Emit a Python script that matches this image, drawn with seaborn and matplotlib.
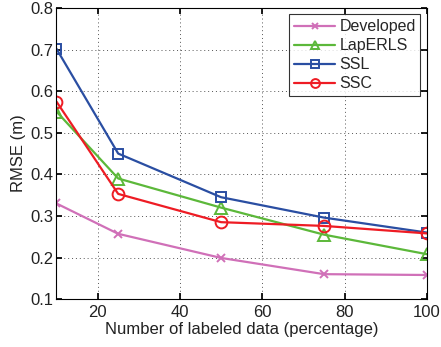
import matplotlib
matplotlib.use("Agg")
import matplotlib.pyplot as plt
import pandas as pd
import seaborn as sns

# data
labeled_pct = [10, 25, 50, 75, 100]
developed = [0.330, 0.257, 0.199, 0.160, 0.158]
laperls = [0.551, 0.390, 0.320, 0.255, 0.208]
ssl = [0.702, 0.450, 0.345, 0.296, 0.260]
ssc = [0.575, 0.353, 0.285, 0.276, 0.258]

series = {
    "Developed": developed,
    "LapERLS": laperls,
    "SSL": ssl,
    "SSC": ssc,
}
colors = {"Developed": "#d070b8", "LapERLS": "#5cb83a", "SSL": "#2a4ea2", "SSC": "#ee1c24"}
markers = {"Developed": "x", "LapERLS": "^", "SSL": "s", "SSC": "o"}
msizes = {"Developed": 5.5, "LapERLS": 8, "SSL": 7, "SSC": 8.5}

sns.set_theme(style="white")
plt.rcParams["font.family"] = ["Liberation Sans", "DejaVu Sans"]

fig = plt.figure(figsize=(4.41, 3.47), dpi=100)
ax = fig.add_axes([0.128, 0.138, 0.84, 0.839])

for name, vals in series.items():
    df = pd.DataFrame({"x": labeled_pct, "y": vals})
    sns.lineplot(
        data=df, x="x", y="y", ax=ax, color=colors[name], marker=markers[name],
        markersize=msizes[name], markerfacecolor="none", markeredgecolor=colors[name],
        markeredgewidth=1.4, linewidth=1.6, label=name,
    )

ax.set_xlim(10, 100)
ax.set_ylim(0.1, 0.8)
ax.set_xticks([20, 40, 60, 80, 100])
ax.set_yticks([0.1, 0.2, 0.3, 0.4, 0.5, 0.6, 0.7, 0.8])
ax.set_yticklabels(["0.1", "0.2", "0.3", "0.4", "0.5", "0.6", "0.7", "0.8"])
ax.grid(True, linestyle=(0, (1, 3)), color="#555555", linewidth=0.7)
ax.tick_params(direction="in", length=4, labelsize=12, colors="black",
               labelcolor="#222222", top=True, right=True, bottom=True, left=True, pad=2)
ax.tick_params(axis="x", pad=4)
for s in ax.spines.values():
    s.set_color("black")
    s.set_linewidth(0.8)

ax.set_xlabel("Number of labeled data (percentage)", fontsize=12, labelpad=2, color="#222222")
ax.set_ylabel("RMSE (m)", fontsize=12, labelpad=3, color="#222222")

leg = ax.legend(loc="upper right", fontsize=11.5, frameon=True, fancybox=False,
                borderpad=0.3, labelspacing=0.25, handlelength=2.6, handletextpad=0.25,
                borderaxespad=0.4, markerscale=0.75)
leg.get_frame().set_edgecolor("black")
leg.get_frame().set_linewidth(0.8)

fig.savefig("out.png", dpi=100)
